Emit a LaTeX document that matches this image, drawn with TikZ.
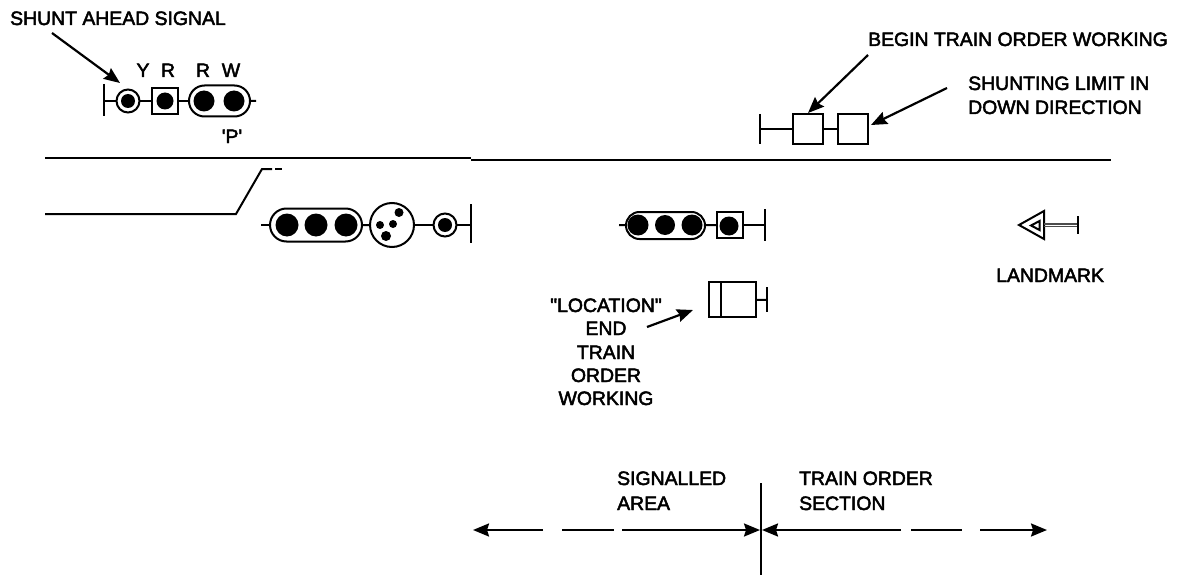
\documentclass[tikz,border=0pt]{standalone}
\usepackage{fontspec}
\newfontfamily\labfont{Liberation Sans}[RawFeature={embolden=2.5}]
\usetikzlibrary{shapes.misc,arrows.meta}
\tikzset{
 ln/.style={line width=2pt,black},
 lamp/.style={circle,fill=black,inner sep=0pt,outer sep=0pt,minimum size=#1},
 ring/.style={circle,draw=black,line width=2pt,inner sep=0pt,outer sep=0pt,minimum size=#1},
 boxy/.style={rectangle,draw=black,line width=2pt,inner sep=0pt,outer sep=0pt},
 pill/.style={rounded rectangle,draw=black,line width=2pt,inner sep=0pt,outer sep=0pt},
 lbl/.style={anchor=base west,inner sep=0pt,font=\labfont\fontsize{19.4pt}{22pt}\selectfont,text=black},
 ctr/.style={anchor=base,inner sep=0pt,font=\labfont\fontsize{19.4pt}{22pt}\selectfont,text=black},
 arr/.style={line width=2.2pt,black,-{Stealth[length=16pt,width=13pt,inset=2pt]}},
 arrd/.style={line width=2pt,black},
}
\begin{document}
\begin{tikzpicture}[x=1pt,y=-1pt]
\useasboundingbox (0,0) rectangle (1183,575);
% tracks
\coordinate (t1) at (45,158); \coordinate (t2) at (471,158);
\coordinate (t3) at (471,160); \coordinate (t4) at (1111,160);
\draw[ln] (t1) -- (t2); \draw[ln] (t3) -- (t4);
\coordinate (s1) at (45,214); \coordinate (s2) at (236,214); \coordinate (s3) at (262,169);
\coordinate (s4) at (272,169); \coordinate (s5) at (275,169); \coordinate (s6) at (282,169);
\draw[ln] (s1) -- (s2) -- (s3) -- (s4); \draw[ln] (s5) -- (s6);
% shunt ahead signal
\coordinate (a1t) at (104,84); \coordinate (a1b) at (104,116); \coordinate (a1m) at (104,101);
\draw[ln] (a1t) -- (a1b);
\node[ring=23pt] (a2) at (128,101) {}; \node[lamp=14pt] (a2i) at (128,101) {};
\node[boxy,minimum size=26pt] (a3) at (165,101) {}; \node[lamp=17pt] (a3i) at (165,101) {};
\node[pill,minimum width=61pt,minimum height=31pt] (a4) at (219.5,101) {};
\node[lamp=21pt] (a5) at (204,101) {}; \node[lamp=21pt] (a6) at (234,101) {};
\coordinate (a7) at (256,101);
\draw[ln] (a1m) -- (a2); \draw[ln] (a2) -- (a3); \draw[ln] (a3) -- (a4); \draw[ln] (a4) -- (a7);
\node[ctr] (lY) at (143,77) {Y}; \node[ctr] (lR1) at (168,77) {R};
\node[ctr] (lR2) at (203,77) {R}; \node[ctr] (lW) at (231,77) {W};
\node[ctr] (lP) at (232,143) {'P'};
\node[lbl] (shunt) at (10,25) {SHUNT AHEAD SIGNAL};
\coordinate (sa) at (52,33); \coordinate (sb) at (120,83);
\draw[arr] (sa) -- (sb);
% left main signal
\coordinate (b0) at (261,225);
\node[pill,minimum width=92pt,minimum height=33pt] (b1) at (316,225) {};
\node[lamp=23pt] (b2) at (287,225) {}; \node[lamp=23pt] (b3) at (316,225) {}; \node[lamp=23pt] (b4) at (346,225) {};
\node[ring=44pt] (b5) at (392,225) {};
\node[lamp=9pt] (b5a) at (399,212.5) {}; \node[lamp=8pt] (b5b) at (380,225) {};
\node[lamp=8pt] (b5c) at (393,224) {}; \node[lamp=10pt] (b5d) at (386,236) {};
\node[ring=23pt] (b6) at (445,225) {}; \node[lamp=14pt] (b6i) at (445,225) {};
\coordinate (b7) at (471,225); \coordinate (b7t) at (471,204); \coordinate (b7b) at (471,243);
\draw[ln] (b7t) -- (b7b);
\draw[ln] (b0) -- (b1); \draw[ln] (b1) -- (b5); \draw[ln] (b5) -- (b6); \draw[ln] (b6) -- (b7);
% middle signal
\coordinate (c0) at (619,225);
\node[pill,minimum width=79pt,minimum height=27pt] (c1) at (665.5,225.5) {};
\node[lamp=21pt] (c2) at (638,225) {}; \node[lamp=20pt] (c3) at (665,225) {}; \node[lamp=21pt] (c4) at (692,225) {};
\node[boxy,minimum size=26pt] (c5) at (730,225) {}; \node[lamp=19pt] (c5i) at (729,226) {};
\coordinate (c6) at (765,225); \coordinate (c6t) at (765,209); \coordinate (c6b) at (765,241);
\draw[ln] (c6t) -- (c6b);
\draw[ln] (c0) -- (c1); \draw[ln] (c1) -- (c5); \draw[ln] (c5) -- (c6);
% location board
\node[boxy,minimum width=47pt,minimum height=35pt] (d1) at (732.5,299.5) {};
\coordinate (d1t) at (721,282); \coordinate (d1b) at (721,317);
\coordinate (d1lt) at (709,281); \coordinate (d1lb) at (709,318);
\draw[ln] (d1t) -- (d1b); \draw[line width=2.8pt] (d1lt) -- (d1lb);
\coordinate (d2) at (767,300); \coordinate (d2t) at (767,287); \coordinate (d2b) at (767,312);
\draw[ln] (d1) -- (d2); \draw[ln] (d2t) -- (d2b);
\coordinate (da) at (647,327); \coordinate (db) at (693,310);
\draw[arr] (da) -- (db);
\node[ctr] (t1a) at (606,312) {"LOCATION"};
\node[ctr] (t1b) at (606,335) {END};
\node[ctr] (t1c) at (606,359) {TRAIN};
\node[ctr] (t1d) at (606,382) {ORDER};
\node[ctr] (t1e) at (606,405) {WORKING};
% upper-right boards
\coordinate (e0) at (760,129); \coordinate (e0t) at (760,114); \coordinate (e0b) at (760,144);
\draw[ln] (e0t) -- (e0b);
\node[boxy,minimum size=30pt] (e1) at (808,129) {};
\node[boxy,minimum size=30pt] (e2) at (853,129) {};
\draw[ln] (e0) -- (e1); \draw[ln] (e1) -- (e2);
\node[lbl] (begin) at (868,46) {BEGIN TRAIN ORDER WORKING};
\node[lbl] (sl1) at (968,90) {SHUNTING LIMIT IN};
\node[lbl] (sl2) at (968,114) {DOWN DIRECTION};
\coordinate (ea) at (868,55); \coordinate (eb) at (808,113);
\coordinate (ec) at (947,88); \coordinate (ed) at (871,125);
\draw[arr] (ea) -- (eb); \draw[arr] (ec) -- (ed);
% landmark
\coordinate (f1) at (1019,225); \coordinate (f2) at (1044,211); \coordinate (f3) at (1044,239);
\draw[ln,line join=miter] (f1) -- (f2) -- (f3) -- cycle;
\coordinate (f4) at (1031,225.5); \coordinate (f5) at (1039.5,221); \coordinate (f6) at (1039.5,230);
\draw[line width=2pt] (f4) -- (f5) -- (f6) -- cycle;
\coordinate (f7) at (1044,224); \coordinate (f8) at (1078,224);
\coordinate (f9) at (1044,226.5); \coordinate (f10) at (1078,226.5);
\draw[line width=1.2pt,black!70] (f7) -- (f8); \draw[line width=1.2pt,black!70] (f9) -- (f10);
\coordinate (f11) at (1078,216); \coordinate (f12) at (1078,234);
\draw[ln] (f11) -- (f12);
\node[lbl] (lm) at (996,282) {LANDMARK};
% boundary
\coordinate (g1) at (761,483); \coordinate (g2) at (761,575);
\draw[line width=2.2pt] (g1) -- (g2);
\node[lbl] (sg1) at (617,485) {SIGNALLED};
\node[lbl] (sg2) at (617,510) {AREA};
\node[lbl] (to1) at (799,485) {TRAIN ORDER};
\node[lbl] (to2) at (799,510) {SECTION};
\coordinate (h1) at (543,530); \coordinate (h2) at (473,530);
\coordinate (h3) at (562,530); \coordinate (h4) at (614,530);
\coordinate (h5) at (622,530); \coordinate (h6) at (760,530);
\coordinate (h7) at (901,530); \coordinate (h8) at (762,530);
\coordinate (h9) at (911,530); \coordinate (h10) at (962,530);
\coordinate (h11) at (980,530); \coordinate (h12) at (1047,530);
\draw[arr] (h1) -- (h2); \draw[arrd] (h3) -- (h4); \draw[arr] (h5) -- (h6);
\draw[arr] (h7) -- (h8); \draw[arrd] (h9) -- (h10); \draw[arr] (h11) -- (h12);
\end{tikzpicture}
\end{document}
